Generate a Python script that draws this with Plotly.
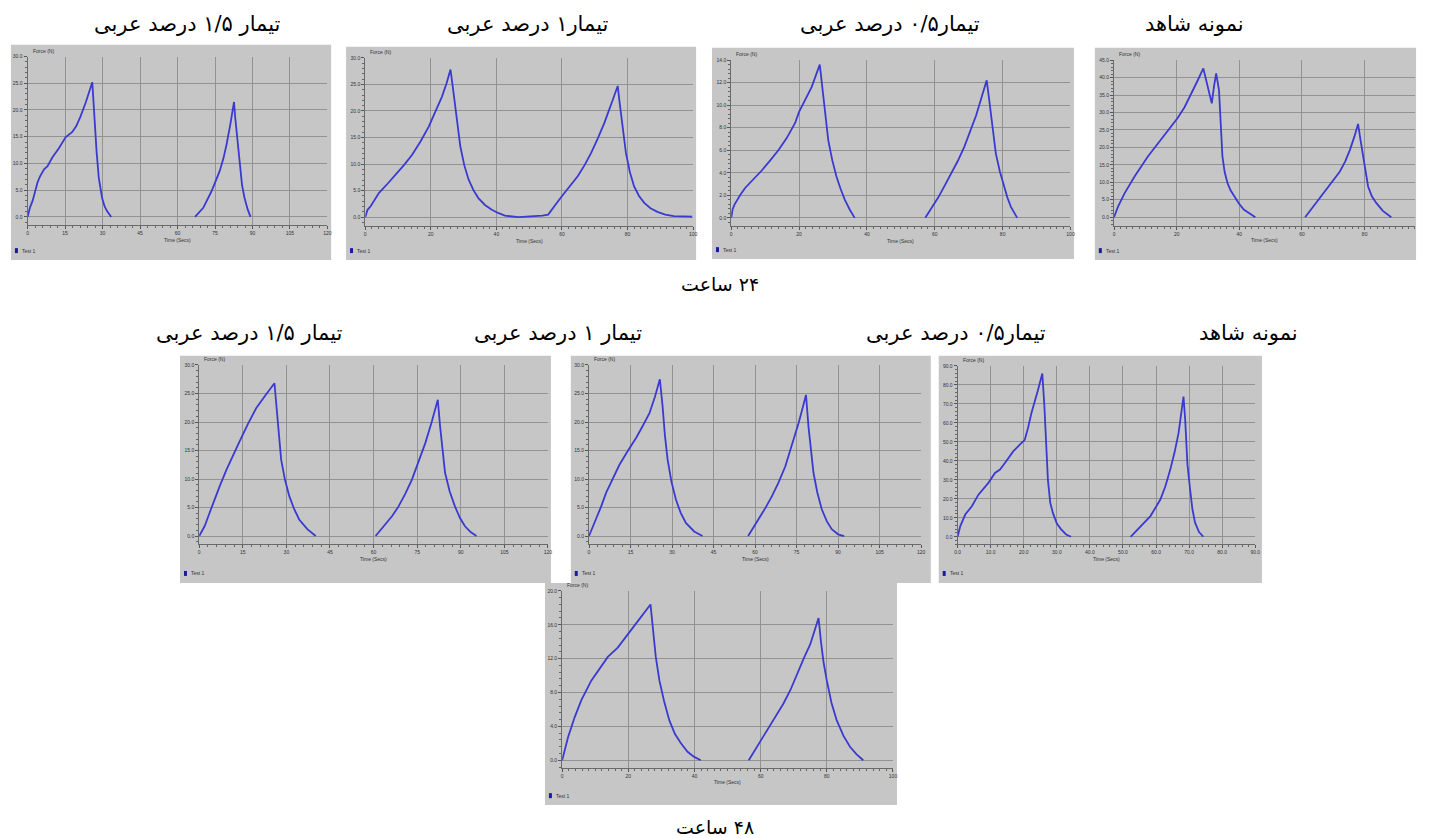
import plotly.graph_objects as go

W, H = 1431, 838

# ---------------- text ----------------
titles_24h = ["تیمار ۱/۵ درصد عربی", "تیمار۱ درصد عربی", "تیمار۰/۵ درصد عربی", "نمونه شاهد"]
titles_48h = ["تیمار ۱/۵ درصد عربی", "تیمار ۱ درصد عربی", "تیمار۰/۵ درصد عربی", "نمونه شاهد"]
group_labels = ["\u200f۲۴ ساعت", "\u200f۴۸ ساعت"]
y_axis_name = "Force (N)"
x_axis_name = "Time (Secs)"
legend_name = "Test 1"

# ---------------- data (time in s, force in N) ----------------
# 24 h, 1.5 % gum arabic
p1_time = [0, 1.0, 2.0, 3.0, 4.0, 5.0, 6.6, 8.0, 9.9, 12.6, 15.2, 17.9, 19.5, 21.2, 23.2, 25.9,
           26.5, 27.0, 27.6, 28.5, 29.8, 30.8, 31.8, 33.5,
           None, 67.0, 70.3, 73.6, 75.5, 76.9, 78.4, 79.6, 81.2, 82.6,
           83.1, 83.5, 84.2, 84.9, 85.8, 86.8, 88.0, 89.2]
p1_force = [0, 1.8, 3.0, 4.8, 6.5, 7.6, 8.9, 9.5, 11.1, 12.9, 14.9, 15.9, 17.0, 18.8, 21.3, 25.2,
            19.7, 15.5, 12.3, 7.3, 3.6, 2.0, 1.1, 0,
            None, 0, 1.7, 4.8, 6.8, 8.6, 11.0, 13.5, 17.5, 21.5,
            18.5, 16.6, 12.5, 9.2, 6.0, 3.6, 1.5, 0]
p1_xticks = [0, 15, 30, 45, 60, 75, 90, 105, 120]
p1_yticks = [0, 5, 10, 15, 20, 25, 30]

# 24 h, 1 % gum arabic
p2_time = [0, 0.7, 1.7, 4.2, 6.8, 9.3, 11.8, 14.3, 16.9, 19.4, 21.4, 23.4, 24.8, 26.0,
           26.8, 27.5, 28.2, 29.0, 30.2, 31.5, 33.0, 34.5, 36.5, 38.6, 40.5, 42.6, 46.7, 50.7, 54.0, 55.8,
           56.8, 58.8, 60.8, 62.8, 64.8, 66.9, 68.9, 70.9, 72.9, 75.5, 77.0,
           77.5, 78.0, 78.7, 79.5, 80.7, 82.0, 83.5, 85.1, 87.0, 89.1, 91.5, 94.1, 99.7]
p2_force = [0, 1.4, 2.1, 4.6, 6.3, 8.0, 9.8, 11.75, 14.3, 17.1, 19.8, 22.7, 25.2, 27.8,
            24.0, 20.8, 16.8, 13.3, 9.8, 7.1, 5.1, 3.6, 2.3, 1.4, 0.8, 0.3, 0.0, 0.1, 0.3, 0.5,
            1.4, 3.0, 4.6, 6.1, 7.7, 9.8, 12.1, 14.8, 17.7, 22.1, 24.7,
            22.0, 19.6, 15.8, 12.1, 8.5, 5.8, 4.0, 2.7, 1.7, 1.0, 0.5, 0.2, 0.1]
p2_xticks = [0, 20, 40, 60, 80, 100]
p2_yticks = [0, 5, 10, 15, 20, 25, 30]

# 24 h, 0.5 % gum arabic
p3_time = [0, 0.4, 1.0, 1.7, 2.8, 4.1, 6.5, 9.0, 11.5, 13.9, 16.4, 18.8, 20.0, 21.8, 23.7, 26.1,
           26.6, 27.1, 27.8, 28.6, 29.8, 31.0, 32.2, 33.5, 35.0, 36.4,
           None, 57.2, 59.4, 61.0, 62.8, 64.8, 66.7, 68.7, 70.6, 72.2, 73.6, 75.3,
           75.9, 76.5, 77.2, 78.0, 79.2, 80.4, 81.4, 82.4, 84.3]
p3_force = [0, 0.74, 1.2, 1.6, 2.1, 2.65, 3.4, 4.2, 5.1, 6.0, 7.1, 8.4, 9.4, 10.5, 11.6, 13.6,
            12.3, 10.8, 8.8, 6.9, 5.1, 3.7, 2.6, 1.6, 0.7, 0,
            None, 0, 1.0, 1.8, 2.8, 3.9, 5.0, 6.3, 7.8, 9.1, 10.5, 12.2,
            10.8, 9.3, 7.4, 5.7, 4.1, 2.8, 1.8, 1.0, 0]
p3_xticks = [0, 20, 40, 60, 80, 100]
p3_yticks = [0, 2, 4, 6, 8, 10, 12, 14]

# 24 h, control
p4_time = [0, 1.3, 3.4, 6.6, 10.8, 15.0, 20.3, 22.5, 24.5, 26.5, 28.5, 29.3, 30.1, 31.2, 31.9, 32.6,
           33.5, 34.6, 35.3, 36.2, 37.2, 38.3, 39.8, 41.4, 43.2, 45.1,
           None, 61.0, 63.6, 65.8, 67.9, 70.0, 72.1, 73.8, 75.3, 76.7, 77.9,
           78.7, 79.5, 80.3, 81.1, 82.3, 83.7, 85.8, 87.9, 88.5]
p4_force = [0, 3.1, 6.9, 11.7, 17.4, 22.2, 28.4, 31.5, 35.0, 38.8, 42.6, 39.8, 36.9, 32.6, 37.4, 41.2,
            36.4, 17.4, 13.0, 9.8, 7.7, 6.0, 4.0, 2.2, 1.0, 0,
            None, 0, 3.1, 5.5, 7.9, 10.4, 13.1, 16.0, 19.3, 23.0, 26.7,
            22.0, 17.4, 12.5, 8.8, 6.0, 4.1, 1.8, 0.3, 0]
p4_xticks = [0, 20, 40, 60, 80]
p4_yticks = [0, 5, 10, 15, 20, 25, 30, 35, 40, 45]

# 48 h, 1.5 % gum arabic
p5_time = [0, 1.9, 3.3, 4.8, 7.1, 9.4, 11.6, 13.9, 16.7, 19.6, 22.8, 25.9,
           26.7, 27.4, 28.2, 29.5, 31.0, 32.7, 34.4, 37.2, 40.1,
           None, 60.7, 64.1, 66.4, 68.6, 70.9, 73.2, 75.5, 77.8, 80.0, 82.1,
           82.9, 83.7, 84.6, 86.2, 88.0, 89.7, 91.4, 93.4, 95.4]
p5_force = [0, 1.75, 3.7, 5.8, 8.8, 11.65, 14.2, 16.6, 19.6, 22.4, 24.7, 26.8,
            22.1, 17.5, 13.4, 9.9, 7.0, 4.7, 2.9, 1.2, 0,
            None, 0, 2.0, 3.5, 5.2, 7.4, 9.9, 13.0, 16.3, 20.0, 23.9,
            19.2, 14.8, 11.1, 7.8, 5.2, 3.2, 1.75, 0.7, 0]
p5_xticks = [0, 15, 30, 45, 60, 75, 90, 105, 120]
p5_yticks = [0, 5, 10, 15, 20, 25, 30]

# 48 h, 1 % gum arabic
p6_time = [0, 2.6, 4.4, 6.2, 8.6, 11.0, 14.0, 17.0, 19.4, 21.8, 23.8, 25.6,
           26.6, 27.4, 28.4, 29.8, 31.4, 33.1, 35.0, 38.0, 41.0,
           None, 57.5, 61.3, 63.7, 66.1, 68.5, 70.9, 73.3, 75.7, 77.2, 78.4,
           79.3, 80.1, 81.1, 82.5, 84.1, 85.9, 87.7, 90.0, 92.2]
p6_force = [0, 2.9, 5.2, 7.6, 10.1, 12.5, 14.9, 17.2, 19.3, 21.5, 24.4, 27.5,
            22.7, 17.8, 13.4, 9.5, 6.4, 4.1, 2.3, 0.8, 0,
            None, 0, 2.9, 4.9, 7.0, 9.4, 12.2, 15.8, 19.8, 22.5, 24.75,
            19.2, 15.0, 11.1, 7.6, 4.7, 2.6, 1.2, 0.3, 0]
p6_xticks = [0, 15, 30, 45, 60, 75, 90, 105, 120]
p6_yticks = [0, 5, 10, 15, 20, 25, 30]

# 48 h, control
p7_time = [0, 0.8, 2.3, 4.3, 6.3, 9.3, 11.3, 12.8, 14.3, 16.8, 18.8, 20.3, 21.3, 22.3, 24.3, 25.6,
           26.2, 26.8, 27.3, 28.0, 28.8, 30.0, 31.3, 32.8, 34.3,
           None, 52.3, 55.3, 58.3, 61.3, 62.8, 64.3, 65.6, 66.8, 68.3,
           68.8, 69.1, 69.5, 70.3, 71.0, 71.8, 73.0, 74.3]
p7_force = [0, 5.6, 11.7, 16.1, 22.2, 28.4, 33.6, 35.4, 38.9, 45.0, 48.5, 51.1, 57.5, 65.1, 77.4, 86.0,
            70.0, 48.0, 30.0, 18.0, 12.6, 7.0, 3.9, 1.2, 0,
            None, 0, 5.6, 10.9, 19.6, 26.5, 35.4, 44.5, 54.6, 73.9,
            62.0, 52.0, 38.0, 24.9, 14.5, 7.4, 2.5, 0]
p7_xticks = [0, 10, 20, 30, 40, 50, 60, 70, 80, 90]
p7_yticks = [0, 10, 20, 30, 40, 50, 60, 70, 80, 90]

# 48 h, bottom panel
p8_time = [0, 0.6, 1.8, 3.8, 5.8, 8.8, 11.8, 13.8, 16.8, 20.8, 23.8, 26.7,
           27.4, 28.3, 29.4, 30.8, 32.4, 34.1, 35.9, 37.9, 39.9, 41.9,
           None, 56.4, 58.9, 60.9, 62.9, 64.9, 66.9, 69.0, 71.0, 73.0, 75.0, 77.5,
           78.2, 79.0, 80.0, 81.4, 83.0, 85.0, 87.0, 89.0, 91.0]
p8_force = [0, 1.0, 2.75, 5.1, 7.1, 9.4, 11.0, 12.2, 13.3, 15.3, 16.9, 18.4,
            15.3, 12.2, 9.4, 7.0, 4.7, 3.1, 2.0, 1.0, 0.4, 0,
            None, 0, 1.6, 3.0, 4.3, 5.5, 6.7, 8.3, 10.2, 12.0, 13.7, 16.8,
            14.1, 11.6, 9.4, 6.8, 4.7, 2.9, 1.6, 0.7, 0]
p8_xticks = [0, 20, 40, 60, 80, 100]
p8_yticks = [0, 4, 8, 12, 16, 20]

# ---------------- layout geometry (pixels) ----------------
panels = [
    dict(t=p1_time, f=p1_force, xt=p1_xticks, yt=p1_yticks, outer=(8, 42, 330, 258),
         plot=(24.7, 53.7, 326.3, 222.7), xr=[0, 120], yr=[-1.49, 30], xm=3, ym=1, xf="d"),
    dict(t=p2_time, f=p2_force, xt=p2_xticks, yt=p2_yticks, outer=(345, 44, 697, 258),
         plot=(364.3, 55, 694, 224), xr=[0, 100], yr=[-1.69, 30], xm=2, ym=1, xf="d"),
    dict(t=p3_time, f=p3_force, xt=p3_xticks, yt=p3_yticks, outer=(713, 45, 1077, 257),
         plot=(732.3, 57.3, 1073.5, 224), xr=[0, 100], yr=[-0.74, 14], xm=2, ym=0.4, xf="d"),
    dict(t=p4_time, f=p4_force, xt=p4_xticks, yt=p4_yticks, outer=(1098, 45, 1421, 258),
         plot=(1117.3, 57.3, 1419.7, 223.3), xr=[0, 96], yr=[-2.38, 45], xm=2, ym=1, xf="d"),
    dict(t=p5_time, f=p5_force, xt=p5_xticks, yt=p5_yticks, outer=(178, 354, 551, 582),
         plot=(197.3, 363.3, 548, 543.3), xr=[0, 120], yr=[-1.46, 30], xm=3, ym=1, xf="d"),
    dict(t=p6_time, f=p6_force, xt=p6_xticks, yt=p6_yticks, outer=(571, 354, 933, 582),
         plot=(589.3, 363.3, 923.3, 543.3), xr=[0, 120], yr=[-1.46, 30], xm=3, ym=1, xf="d"),
    dict(t=p7_time, f=p7_force, xt=p7_xticks, yt=p7_yticks, outer=(941, 354, 1266, 582),
         plot=(960, 364.3, 1259.3, 543.3), xr=[0, 90], yr=[-4.0, 90], xm=2, ym=2, xf=".1f"),
    dict(t=p8_time, f=p8_force, xt=p8_xticks, yt=p8_yticks, outer=(545, 582, 899, 805),
         plot=(562.3, 590, 895, 767.3), xr=[0, 100], yr=[-0.86, 20], xm=2, ym=0.8, xf="d"),
]

title_pos_24 = [(186, 21), (527, 21), (892, 21), (1198, 21)]
title_pos_48 = [(248, 331), (558, 331), (958, 331), (1253, 331)]
group_pos = [(721, 282), (716, 827)]

PANEL_BG = "#c6c6c6"
GRID = "#939393"
LINE = "#3a3ad0"
SMALL_FONT = dict(family="Liberation Sans, Arial", size=5, color="#333333")


def fx(x):
    return x / W


def fy(y):
    return 1 - y / H


fig = go.Figure()
shapes = []
annotations = []
layout_axes = {}

for i, p in enumerate(panels, start=1):
    xn = "x" if i == 1 else f"x{i}"
    yn = "y" if i == 1 else f"y{i}"
    xk = "xaxis" if i == 1 else f"xaxis{i}"
    yk = "yaxis" if i == 1 else f"yaxis{i}"
    ox0, oy0, ox1, oy1 = p["outer"]
    px0, py0, px1, py1 = p["plot"]

    fig.add_trace(go.Scatter(x=p["t"], y=p["f"], mode="lines", xaxis=xn, yaxis=yn,
                             line=dict(color=LINE, width=1.8), showlegend=False,
                             connectgaps=False, hoverinfo="skip"))

    xfmt = (lambda v: f"{v:.1f}") if p["xf"] == ".1f" else (lambda v: f"{v:d}")
    layout_axes[xk] = dict(
        domain=[fx(px0), fx(px1)], anchor=yn, range=p["xr"],
        tickmode="array", tickvals=p["xt"], ticktext=[xfmt(v) for v in p["xt"]],
        showgrid=True, gridcolor=GRID, gridwidth=1, zeroline=False,
        showline=True, linecolor="#6a6a6a", linewidth=1,
        ticks="outside", ticklen=3, tickcolor="#555555",
        minor=dict(ticks="outside", ticklen=2, dtick=p["xm"], tickcolor="#666666", showgrid=False),
        tickfont=SMALL_FONT, fixedrange=True,
    )
    layout_axes[yk] = dict(
        domain=[fy(py1), fy(py0)], anchor=xn, range=p["yr"],
        tickmode="array", tickvals=p["yt"], ticktext=[f"{v:.1f}" for v in p["yt"]],
        showgrid=True, gridcolor=GRID, gridwidth=1, zeroline=False,
        showline=True, linecolor="#6a6a6a", linewidth=1,
        ticks="outside", ticklen=3, tickcolor="#555555",
        minor=dict(ticks="outside", ticklen=2, dtick=p["ym"], tickcolor="#666666", showgrid=False),
        tickfont=SMALL_FONT, fixedrange=True,
    )

    # panel background
    shapes.append(dict(type="rect", xref="paper", yref="paper", x0=fx(ox0), x1=fx(ox1),
                       y0=fy(oy1), y1=fy(oy0), fillcolor=PANEL_BG, line=dict(width=0), layer="below"))
    # legend marker
    shapes.append(dict(type="rect", xref="paper", yref="paper", x0=fx(ox0 + 4), x1=fx(ox0 + 7),
                       y0=fy(oy1 - 7), y1=fy(oy1 - 12), fillcolor="#1a1aa0", line=dict(width=0)))
    annotations.append(dict(x=fx(ox0 + 9), y=fy(oy1 - 9.5), xref="paper", yref="paper",
                            text=legend_name, showarrow=False, xanchor="left", yanchor="middle",
                            font=SMALL_FONT))
    annotations.append(dict(x=fx(px0 + 3), y=fy(py0 - 1), xref="paper", yref="paper",
                            text=y_axis_name, showarrow=False, xanchor="left", yanchor="bottom",
                            font=SMALL_FONT))
    annotations.append(dict(x=fx((px0 + px1) / 2), y=fy(py1 + 15), xref="paper", yref="paper",
                            text=x_axis_name, showarrow=False, xanchor="center", yanchor="middle",
                            font=SMALL_FONT))

TITLE_FONT = dict(family="DejaVu Sans", size=21, color="#000000")
GROUP_FONT = dict(family="DejaVu Sans", size=19, color="#000000")
for txt, (x, y) in zip(titles_24h, title_pos_24):
    annotations.append(dict(x=fx(x), y=fy(y), xref="paper", yref="paper", text=txt, showarrow=False,
                            xanchor="center", yanchor="middle", font=TITLE_FONT))
for txt, (x, y) in zip(titles_48h, title_pos_48):
    annotations.append(dict(x=fx(x), y=fy(y), xref="paper", yref="paper", text=txt, showarrow=False,
                            xanchor="center", yanchor="middle", font=TITLE_FONT))
for txt, (x, y) in zip(group_labels, group_pos):
    annotations.append(dict(x=fx(x), y=fy(y), xref="paper", yref="paper", text=txt, showarrow=False,
                            xanchor="center", yanchor="middle", font=GROUP_FONT))

fig.update_layout(
    width=W, height=H, margin=dict(l=0, r=0, t=0, b=0),
    paper_bgcolor="white", plot_bgcolor=PANEL_BG,
    shapes=shapes, annotations=annotations, showlegend=False,
    **layout_axes,
)

fig.write_html("out.html", config={"displayModeBar": False},
               post_script="document.body.style.margin='0';document.body.style.overflow='hidden';")
